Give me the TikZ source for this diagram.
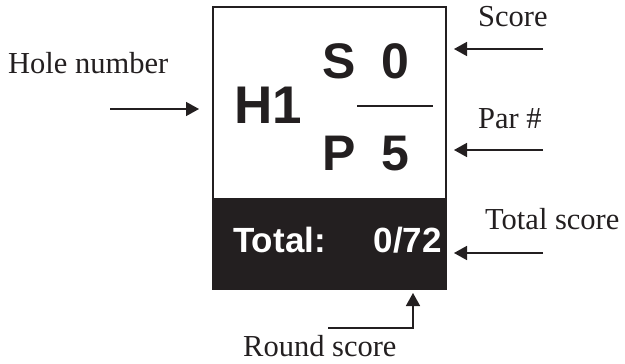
\documentclass[tikz,border=0pt]{standalone}
\usepackage{fontspec}
\setmainfont{Liberation Serif}
\setsansfont{Liberation Sans}
\usetikzlibrary{arrows.meta,positioning,calc}
\definecolor{inkblack}{HTML}{231F20}

\begin{document}
\begin{tikzpicture}[
            x=1pt, y=-1pt,
            every node/.style={inner sep=0pt, text=inkblack},
            label/.style={anchor=base west, font=\fontsize{30.5}{36}\selectfont},
            bigchar/.style={anchor=base, font=\sffamily\bfseries\fontsize{50}{60}\selectfont},
            arrow/.style={draw=inkblack, line width=1.6pt, -{Triangle[length=13pt,width=14pt]}}
        ]
            \useasboundingbox (0,0) rectangle (625,364);

            % Card
            \node (card) [draw=inkblack, line width=2pt, minimum width=233pt, minimum height=281pt] at (329.5,147.5) {};
            \node (totalbar) [fill=inkblack, minimum width=235pt, minimum height=92pt, anchor=south] at ($(card.south)+(0,1)$) {};

            % Nodes
            \node (hole) [bigchar, font=\sffamily\bfseries\fontsize{53}{60}\selectfont] at (268,123) {H1};
            \node (sletter) [bigchar] at (339,78) {S};
            \node (svalue) [bigchar] at (395,78) {0};
            \node (pletter) [bigchar] at (339,170) {P};
            \node (pvalue) [bigchar] at (395,170) {5};
            \coordinate (fracleft) at (357,106);
            \coordinate (fracright) at (433,106);
            \node (totaltext) [anchor=base west, text=white, font=\sffamily\bfseries\fontsize{35}{40}\selectfont] at (233,252) {Total:};
            \node (totalvalue) [anchor=base east, text=white, font=\sffamily\bfseries\fontsize{35}{40}\selectfont] at (442,252) {0/72};

            % Labels
            \node (holelabel) [label] at (8,73) {Hole number};
            \node (scorelabel) [label] at (478,27) {Score};
            \node (parlabel) [label] at (478,128) {Par \#};
            \node (totallabel) [label] at (485,229) {Total score};
            \node (roundlabel) [label, text depth=0pt] at (243,356) {Round score};

            \coordinate (holetail) at (110,109);
            \coordinate (holetip) at (199,109);
            \coordinate (scoretail) at (543,49);
            \coordinate (scoretip) at (454,49);
            \coordinate (partail) at (543,150);
            \coordinate (partip) at (454,150);
            \coordinate (totaltail) at (543,253);
            \coordinate (totaltip) at (454,253);
            \coordinate (roundtail) at (328,328);
            \coordinate (roundtip) at (413,293);

            % Arrows
            \draw [inkblack, line width=2pt] (fracleft) -- (fracright);
            \draw [arrow] (holetail) -- (holetip);
            \draw [arrow] (scoretail) -- (scoretip);
            \draw [arrow] (partail) -- (partip);
            \draw [arrow] (totaltail) -- (totaltip);
            \draw [arrow] (roundtail) -| (roundtip);
        \end{tikzpicture}
\end{document}
